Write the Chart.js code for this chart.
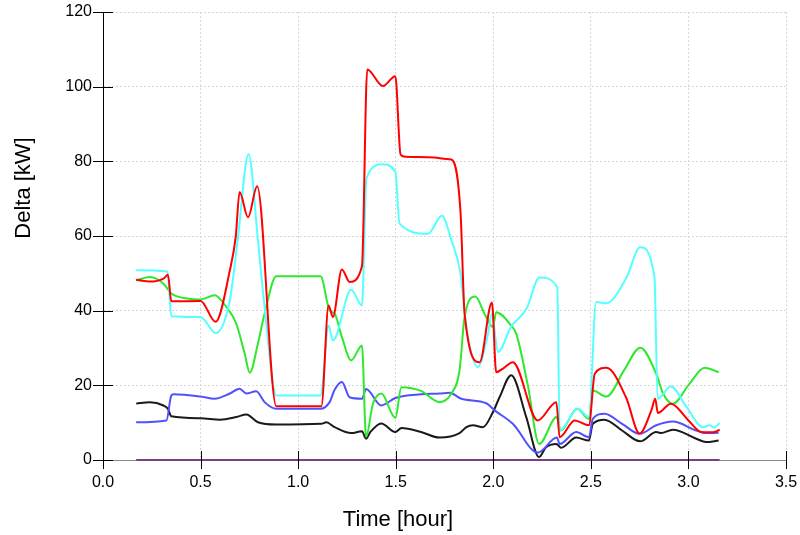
<!DOCTYPE html>
<html>
<head>
<meta charset="utf-8">
<script src="https://cdn.jsdelivr.net/npm/chart.js@4.4.1/dist/chart.umd.min.js"></script>
<style>
  html, body { margin: 0; padding: 0; background: #fff; }
</style>
</head>
<body>
<canvas id="myChart" width="800" height="535"></canvas>
<script>
// time in hours, delta in kW
const redTime = [0.17, 0.24, 0.31, 0.333, 0.35, 0.5, 0.577, 0.65, 0.68, 0.70, 0.743, 0.79, 0.888, 1.119, 1.156, 1.178, 1.224, 1.264, 1.327, 1.354, 1.434, 1.498, 1.525, 1.55, 1.7, 1.76, 1.785, 1.832, 1.853, 1.93, 1.993, 2.015, 2.05, 2.1, 2.228, 2.323, 2.34, 2.417, 2.49, 2.52, 2.58, 2.68, 2.75, 2.81, 2.83, 2.843, 2.91, 3.0, 3.065, 3.125, 3.16];
const redDelta = [48.3, 47.8, 48.6, 49.6, 42.5, 42.6, 37, 50.8, 59.7, 71.8, 65, 73.3, 14.4, 14.4, 41.4, 38.3, 51, 47.7, 51.9, 104.6, 100.2, 102.8, 81.8, 81.2, 81, 80.6, 80.5, 66.5, 39.2, 26.2, 42.2, 23.5, 24.5, 26.2, 10.6, 15.5, 6.1, 10.6, 9.3, 23.1, 24.7, 16.8, 7.1, 13.3, 16.4, 12.6, 15.1, 10.6, 7.5, 7.4, 8.1];

const cyanTime = [0.17, 0.33, 0.35, 0.5, 0.577, 0.65, 0.69, 0.746, 0.794, 0.828, 0.888, 1.115, 1.156, 1.178, 1.272, 1.327, 1.35, 1.43, 1.498, 1.52, 1.665, 1.737, 1.785, 1.832, 1.862, 1.92, 1.97, 1.993, 2.024, 2.09, 2.17, 2.237, 2.328, 2.34, 2.433, 2.49, 2.527, 2.58, 2.68, 2.753, 2.826, 2.842, 2.91, 2.99, 3.074, 3.11, 3.13, 3.16];
const cyanDelta = [50.8, 50.5, 38.5, 38.3, 34, 42.8, 58.9, 81.9, 58.9, 41, 17.3, 17.3, 36, 32, 45.6, 41.4, 75.4, 79.2, 77.2, 63.3, 60.6, 65.4, 58.9, 49.9, 35.6, 24.9, 33, 39.2, 28.9, 35.6, 40.5, 48.9, 46.2, 7.9, 13.7, 11.5, 42.3, 42, 48.6, 57, 49, 16.4, 19.7, 14.2, 8.8, 9.3, 8.7, 9.9];

const greenTime = [0.17, 0.24, 0.31, 0.35, 0.44, 0.5, 0.572, 0.632, 0.683, 0.726, 0.752, 0.794, 0.828, 0.888, 1.115, 1.161, 1.187, 1.224, 1.272, 1.327, 1.348, 1.383, 1.426, 1.498, 1.529, 1.63, 1.725, 1.785, 1.827, 1.853, 1.908, 1.955, 1.998, 2.015, 2.09, 2.118, 2.177, 2.235, 2.325, 2.345, 2.43, 2.49, 2.51, 2.58, 2.67, 2.753, 2.835, 2.87, 2.92, 3.005, 3.083, 3.155];
const greenDelta = [48.1, 49, 47.2, 44.6, 43.2, 43, 44.1, 41, 36.5, 28.5, 23.4, 31.2, 39.2, 49.2, 49.2, 40.1, 39.2, 33, 26.7, 30.7, 6.2, 15, 17.8, 11.3, 19.5, 18.5, 15.5, 17.8, 24, 38.3, 43.8, 39.2, 35.6, 39.6, 36.1, 33.8, 20, 4.3, 11.5, 7.9, 13.7, 11, 18.6, 17, 24, 30.1, 23.1, 17.8, 15.1, 20.4, 24.7, 23.5];

const blueTime = [0.17, 0.325, 0.35, 0.36, 0.5, 0.572, 0.65, 0.70, 0.735, 0.785, 0.828, 0.888, 1.115, 1.161, 1.187, 1.224, 1.264, 1.327, 1.348, 1.426, 1.498, 1.63, 1.725, 1.776, 1.836, 1.964, 2.007, 2.1, 2.228, 2.326, 2.34, 2.425, 2.49, 2.51, 2.57, 2.66, 2.75, 2.835, 2.92, 3.04, 3.09, 3.155];
const blueDelta = [10.1, 10.6, 17.3, 17.6, 17, 16.4, 17.8, 19.1, 17.8, 18.4, 15.5, 13.7, 13.7, 15.5, 18.8, 20.9, 16.8, 16.4, 19, 14.6, 16.6, 17.6, 17.8, 18, 16.4, 15.2, 13.3, 9.7, 2, 6, 4.3, 7.5, 6.1, 11, 12.4, 9.7, 7, 9.3, 10.3, 7.9, 7.2, 7.3];

const blackTime = [0.17, 0.24, 0.31, 0.333, 0.35, 0.5, 0.6, 0.683, 0.735, 0.794, 0.888, 1.119, 1.144, 1.187, 1.272, 1.327, 1.348, 1.37, 1.426, 1.498, 1.53, 1.63, 1.725, 1.827, 1.862, 1.896, 1.947, 1.998, 2.032, 2.092, 2.169, 2.234, 2.27, 2.323, 2.348, 2.425, 2.49, 2.51, 2.57, 2.66, 2.753, 2.835, 2.86, 2.92, 3.04, 3.09, 3.155];
const blackDelta = [15.1, 15.5, 14.6, 13.7, 11.7, 11.2, 10.8, 11.5, 12.2, 10.1, 9.5, 9.7, 10.1, 8.8, 7.2, 7.7, 5.7, 7.5, 9.8, 7.5, 8.6, 7.5, 6, 7.2, 8.8, 9.3, 8.8, 12.8, 16.8, 22.7, 11.5, 0.8, 3.4, 4.3, 3.3, 6, 5.2, 9.7, 10.8, 7.9, 5, 7.5, 7.2, 8.1, 5.7, 4.8, 5.2];

const purpleTime = [0.17, 3.16];
const purpleDelta = [0, 0];

const xTicks = [0, 0.5, 1.0, 1.5, 2.0, 2.5, 3.0, 3.5];
const yTicks = [0, 20, 40, 60, 80, 100, 120];

function pts(t, v) {
    return t.map((x, i) => ({ x: x, y: v[i] }));
}

function series(t, v, color) {
    return {
        data: pts(t, v),
        borderColor: color,
        borderWidth: 2,
        pointRadius: 0,
        cubicInterpolationMode: 'monotone',
        clip: 4
    };
}

// ticks crossing the axes and the two axis titles
const axisDecor = {
    id: 'axisDecor',
    afterDraw(chart) {
        const { ctx, chartArea: a } = chart;
        const x = chart.scales.x, y = chart.scales.y;
        ctx.save();
        ctx.strokeStyle = '#000';
        ctx.lineWidth = 1;
        ctx.beginPath();
        xTicks.forEach(v => {
            const px = Math.round(x.getPixelForValue(v)) + 0.5;
            ctx.moveTo(px, a.bottom - 9);
            ctx.lineTo(px, a.bottom + 9);
        });
        yTicks.forEach(v => {
            const py = Math.round(y.getPixelForValue(v)) + 0.5;
            ctx.moveTo(a.left - 10, py);
            ctx.lineTo(a.left + 10, py);
        });
        ctx.stroke();

        ctx.fillStyle = '#000';
        ctx.font = '22px "Liberation Sans"';
        ctx.textAlign = 'center';
        ctx.textBaseline = 'middle';
        ctx.fillText('Time [hour]', 398, 520);
        ctx.translate(24, 188);
        ctx.rotate(-Math.PI / 2);
        ctx.fillText('Delta [kW]', 0, 0);
        ctx.restore();
    }
};

const ctx = document.getElementById('myChart');

new Chart(ctx, {
    type: 'line',
    data: {
        datasets: [
            series(redTime, redDelta, '#ff0000'),
            series(cyanTime, cyanDelta, '#55ffff'),
            series(greenTime, greenDelta, '#2ee82e'),
            series(blueTime, blueDelta, '#5050ff'),
            series(blackTime, blackDelta, '#1a1a1a'),
            series(purpleTime, purpleDelta, '#7f3f7f')
        ]
    },
    options: {
        responsive: false,
        animation: false,
        layout: { padding: { top: 12, right: 14, left: 0, bottom: 0 } },
        plugins: {
            legend: { display: false },
            tooltip: { enabled: false }
        },
        scales: {
            x: {
                type: 'linear',
                min: 0,
                max: 3.5,
                afterBuildTicks: s => { s.ticks = xTicks.map(v => ({ value: v })); },
                afterFit: s => {
                    s.height = 75;
                    s.paddingLeft = 0;
                    s.paddingRight = 0;
                },
                ticks: {
                    autoSkip: false,
                    maxRotation: 0,
                    padding: 13,
                    color: '#000',
                    font: { family: 'Liberation Sans', size: 16 },
                    callback: v => v.toFixed(1)
                },
                grid: { color: '#d6d6d6', drawTicks: false },
                border: { color: '#888', width: 1, dash: [2, 2] }
            },
            y: {
                min: 0,
                max: 120,
                afterBuildTicks: s => { s.ticks = yTicks.map(v => ({ value: v })); },
                afterFit: s => {
                    s.width = 103;
                    s.paddingTop = 0;
                    s.paddingBottom = 0;
                },
                ticks: {
                    autoSkip: false,
                    padding: 11,
                    color: '#000',
                    font: { family: 'Liberation Sans', size: 16 }
                },
                grid: { color: '#d6d6d6', drawTicks: false },
                border: { color: '#000', width: 1, dash: [2, 2] }
            }
        }
    },
    plugins: [axisDecor]
});
</script>
</body>
</html>
